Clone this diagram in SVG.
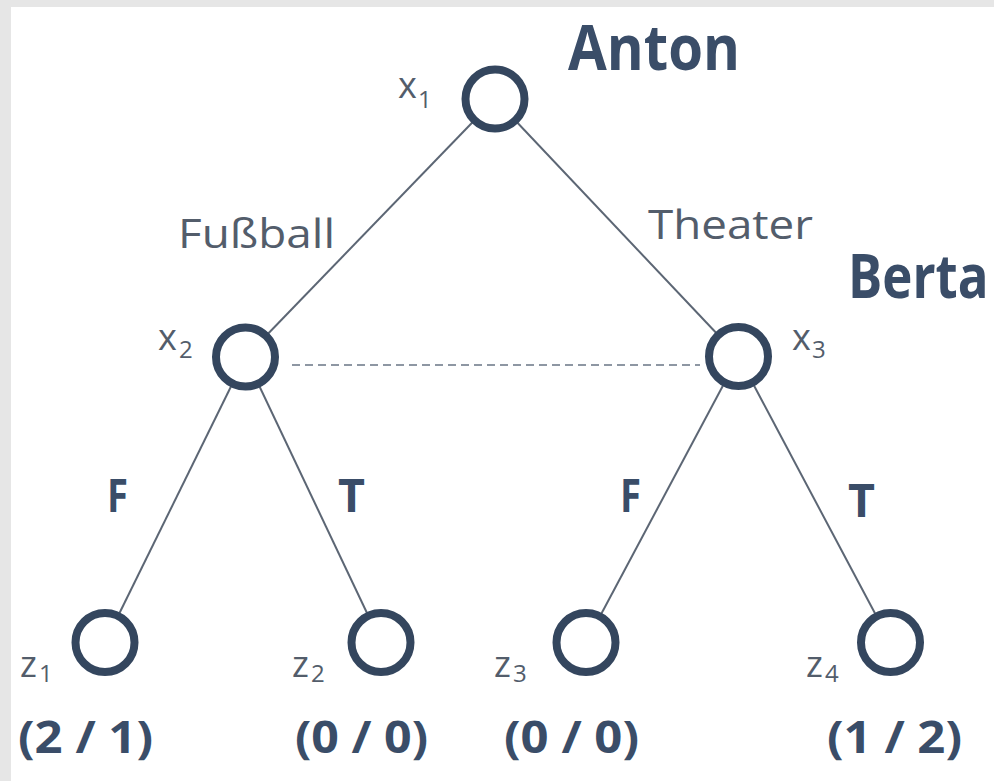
<svg xmlns="http://www.w3.org/2000/svg" width="994" height="781" viewBox="0 0 994 781">
<style>
.node{fill:#fff;stroke:#34465e;stroke-width:8}
.edge{stroke:#5c6674;stroke-width:2;fill:none}
.dash{stroke:#6a7585;stroke-width:1.6;stroke-dasharray:8 5;fill:none}
.lbl{font-family:"Open Sans","Liberation Sans",sans-serif;fill:#535d6b}
.big{font-family:"Open Sans","Liberation Sans",sans-serif;font-weight:bold;fill:#3a4d68}
</style>
<rect x="0" y="0" width="994" height="781" fill="#e6e6e6"/>
<rect x="11" y="7" width="983" height="774" fill="#ffffff"/>
<g id="connectors">
<line class="edge" x1="495" y1="99" x2="245.5" y2="357"/>
<line class="edge" x1="495" y1="99" x2="738.5" y2="356.5"/>
<line class="edge" x1="245.5" y1="357" x2="105" y2="642.5"/>
<line class="edge" x1="245.5" y1="357" x2="381" y2="642.5"/>
<line class="edge" x1="738.5" y1="356.5" x2="586" y2="642.5"/>
<line class="edge" x1="738.5" y1="356.5" x2="890.5" y2="642.5"/>
<line class="dash" x1="292" y1="365" x2="700" y2="365"/>
<text class="lbl" x="178" y="248" font-size="40" textLength="157" lengthAdjust="spacingAndGlyphs">Fußball</text>
<text class="lbl" x="648" y="239" font-size="40" textLength="165" lengthAdjust="spacingAndGlyphs">Theater</text>
<text class="big" x="107" y="512" font-size="46" textLength="21" lengthAdjust="spacingAndGlyphs">F</text>
<text class="big" x="338" y="512" font-size="46" textLength="27" lengthAdjust="spacingAndGlyphs">T</text>
<text class="big" x="620" y="512" font-size="46" textLength="21" lengthAdjust="spacingAndGlyphs">F</text>
<text class="big" x="848" y="517" font-size="46" textLength="27" lengthAdjust="spacingAndGlyphs">T</text>
</g>
<g id="x1">
<circle class="node" cx="495" cy="99" r="29.5"/>
<text class="lbl" x="398" y="98" font-size="36">x</text>
<text class="lbl" x="418" y="108" font-size="24">1</text>
<text class="big" x="568" y="70" font-size="62" textLength="172" lengthAdjust="spacingAndGlyphs">Anton</text>
</g>
<g id="x2">
<circle class="node" cx="245.5" cy="357" r="29.5"/>
<text class="lbl" x="158" y="350" font-size="36">x</text>
<text class="lbl" x="179" y="358" font-size="24">2</text>
</g>
<g id="x3">
<circle class="node" cx="738.5" cy="356.5" r="29.5"/>
<text class="lbl" x="792" y="350" font-size="36">x</text>
<text class="lbl" x="812" y="358" font-size="24">3</text>
<text class="big" transform="translate(848,298) scale(1,1.19)" x="0" y="0" font-size="51">Berta</text>
</g>
<g id="z1">
<circle class="node" cx="105" cy="642.5" r="29.5"/>
<text class="lbl" x="20" y="677" font-size="36">z</text>
<text class="lbl" x="39" y="682" font-size="24">1</text>
<text class="big" x="18" y="753" font-size="44" textLength="135" lengthAdjust="spacingAndGlyphs">(2 / 1)</text>
</g>
<g id="z2">
<circle class="node" cx="381" cy="642.5" r="29.5"/>
<text class="lbl" x="292" y="677" font-size="36">z</text>
<text class="lbl" x="311" y="682" font-size="24">2</text>
<text class="big" x="295" y="753" font-size="44" textLength="133" lengthAdjust="spacingAndGlyphs">(0 / 0)</text>
</g>
<g id="z3">
<circle class="node" cx="586" cy="642.5" r="29.5"/>
<text class="lbl" x="494" y="677" font-size="36">z</text>
<text class="lbl" x="513" y="682" font-size="24">3</text>
<text class="big" x="504" y="753" font-size="44" textLength="135" lengthAdjust="spacingAndGlyphs">(0 / 0)</text>
</g>
<g id="z4">
<circle class="node" cx="890.5" cy="642.5" r="29.5"/>
<text class="lbl" x="806" y="677" font-size="36">z</text>
<text class="lbl" x="825" y="682" font-size="24">4</text>
<text class="big" x="827" y="753" font-size="44" textLength="135" lengthAdjust="spacingAndGlyphs">(1 / 2)</text>
</g>
</svg>
